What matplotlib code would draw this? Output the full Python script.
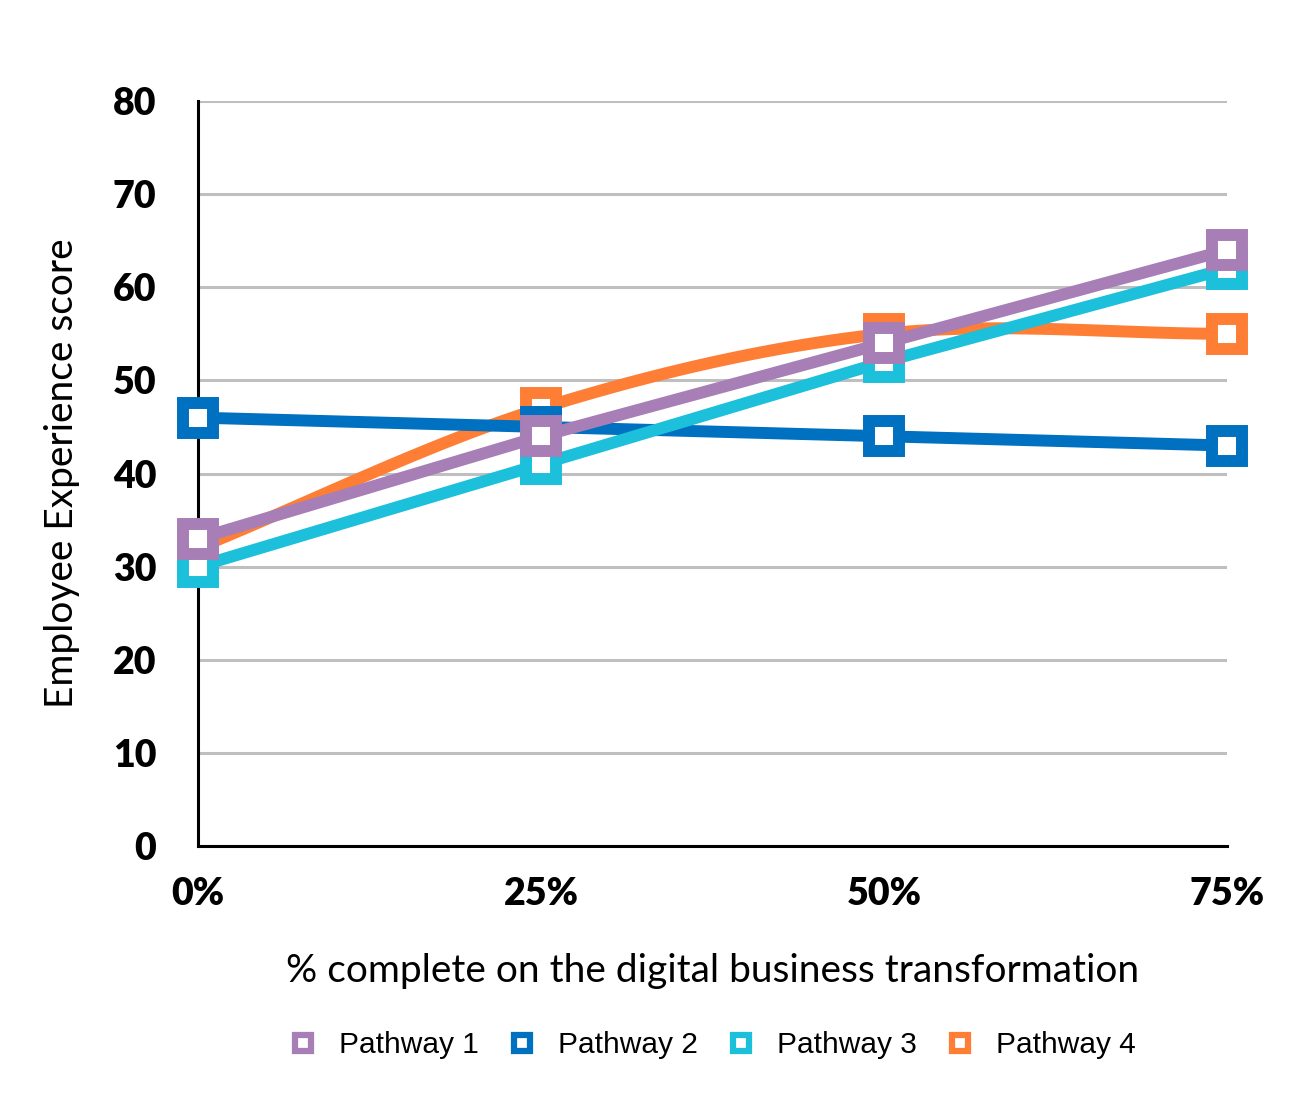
import matplotlib.pyplot as plt
import numpy as np

# data
progress = [0, 25, 50, 75]
tick_labels = ["0%", "25%", "50%", "75%"]
pathway_1 = [33, 44, 54, 64]
pathway_2 = [46, 45, 44, 43]
pathway_3 = [30, 41, 52, 62]
pathway_4 = [32, 47, 55, 55]

colors = {
    "Pathway 1": "#A77EB6",
    "Pathway 2": "#0070C0",
    "Pathway 3": "#1CC0DB",
    "Pathway 4": "#FD7E34",
}


def catmull_rom(x, y, n=40):
    # smooth curve through points, similar to the spreadsheet "smoothed line"
    x = np.asarray(x, float)
    y = np.asarray(y, float)
    px = np.concatenate([[2 * x[0] - x[1]], x, [2 * x[-1] - x[-2]]])
    py = np.concatenate([[2 * y[0] - y[1]], y, [2 * y[-1] - y[-2]]])
    xs, ys = [], []
    t = np.linspace(0, 1, n)
    for i in range(1, len(px) - 2):
        for p, out in ((px, xs), (py, ys)):
            p0, p1, p2, p3 = p[i - 1], p[i], p[i + 1], p[i + 2]
            out.extend(0.5 * (2 * p1 + (-p0 + p2) * t
                              + (2 * p0 - 5 * p1 + 4 * p2 - p3) * t ** 2
                              + (-p0 + 3 * p1 - 3 * p2 + p3) * t ** 3))
    return np.array(xs), np.array(ys)


fig = plt.figure(figsize=(13, 11.14), dpi=100)
ax = fig.add_axes([198 / 1300, 1 - 846 / 1114, (1227 - 198) / 1300, (846 - 101) / 1114])

lw = 8.6
ms = 21.6
mew = 8.6

series = [
    ("Pathway 4", pathway_4, 2),
    ("Pathway 2", pathway_2, 3),
    ("Pathway 3", pathway_3, 4),
    ("Pathway 1", pathway_1, 5),
]
for name, vals, z in series:
    c = colors[name]
    if name == "Pathway 4":
        sx, sy = catmull_rom(progress, vals)
        ax.plot(sx, sy, color=c, lw=lw, zorder=z, clip_on=False, solid_capstyle="butt")
        ax.plot(progress, vals, ls="none", marker="s", ms=ms, mew=mew, mec=c, mfc="white",
                zorder=z, clip_on=False)
    else:
        ax.plot(progress, vals, color=c, lw=lw, marker="s", ms=ms, mew=mew, mec=c,
                mfc="white", zorder=z, clip_on=False, solid_joinstyle="miter")

ax.set_xlim(0, 75)
ax.set_ylim(0, 80)
ax.set_yticks(range(0, 81, 10))
ax.set_xticks(progress)
ax.set_xticklabels(tick_labels)
ax.yaxis.grid(True, color="#BFBFBF", lw=2.2)
ax.set_axisbelow(True)
for s in ["top", "right"]:
    ax.spines[s].set_visible(False)
ax.spines["left"].set_linewidth(2.2)
ax.spines["bottom"].set_linewidth(2.2)
ax.tick_params(length=0, labelsize=27)
ax.tick_params(axis="y", pad=30)
ax.tick_params(axis="x", pad=22)
for lab in ax.get_xticklabels() + ax.get_yticklabels():
    lab.set_fontweight("heavy")
    lab.set_family(["Lato", "DejaVu Sans"])

fig.text(62 / 1300, 1 - 473 / 1114, "Employee Experience score", rotation=90,
         ha="center", va="center", fontsize=28, family=["Lato", "DejaVu Sans"])
fig.text(713 / 1300, 1 - 971 / 1114, "% complete on the digital business transformation",
         ha="center", va="center", fontsize=28, family=["Lato", "DejaVu Sans"])

handles = []
for name in ["Pathway 1", "Pathway 2", "Pathway 3", "Pathway 4"]:
    h, = ax.plot([], [], ls="none", marker="s", ms=12, mew=4.5, mec=colors[name], mfc="white")
    handles.append(h)
fig.legend(handles, ["Pathway 1", "Pathway 2", "Pathway 3", "Pathway 4"],
           loc="center", bbox_to_anchor=(712 / 1300, 1 - 1045 / 1114), ncol=4,
           frameon=False, prop={"family": ["Liberation Sans", "DejaVu Sans"], "size": 21.5},
           handlelength=1.0, handletextpad=0.7, columnspacing=0.95)

fig.savefig("out.png", dpi=100, facecolor="white")
